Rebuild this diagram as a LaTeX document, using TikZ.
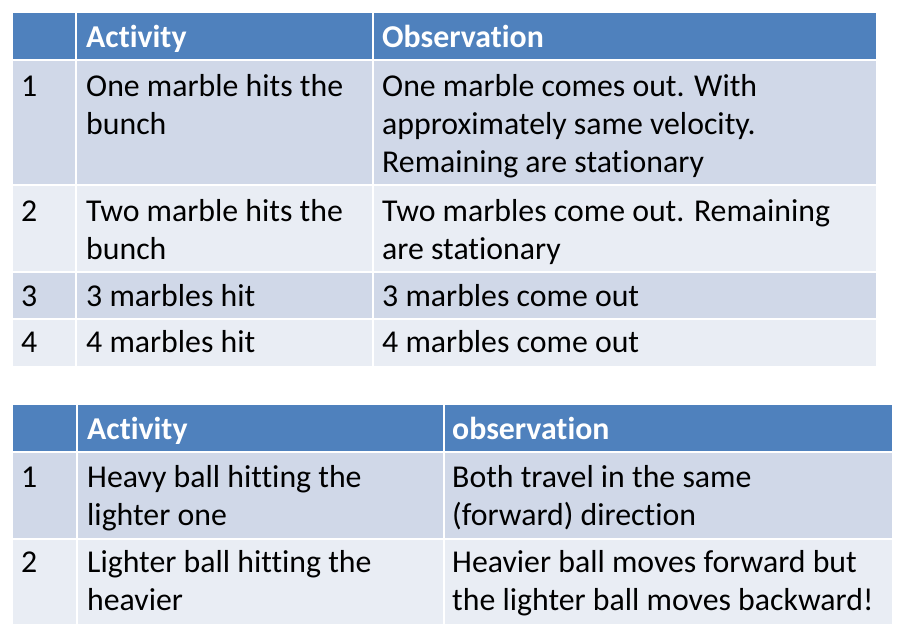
\documentclass[tikz,border=0pt]{standalone}
\usepackage{fontspec}
\setmainfont[Ligatures={NoCommon}]{Carlito}
\definecolor{hdr}{HTML}{4F81BD}
\definecolor{oddrow}{HTML}{D0D8E8}
\definecolor{evenrow}{HTML}{E9EDF4}
\tikzset{
  cell/.style={anchor=north west, inner sep=0pt, align=left, font=\fontsize{31.8}{38}\selectfont},
  head/.style={cell, text=white, font=\fontsize{31.8}{38}\selectfont\bfseries},
}
% baseline b -> north = b - 26.6 (strut height .7*38)
\begin{document}
\begin{tikzpicture}[x=1pt,y=-1pt]
\useasboundingbox (0,0) rectangle (904,637);
% ---------- table 1 ----------
\fill[hdr]     (13,13)  rectangle (876,58.5);
\fill[oddrow]  (13,61)  rectangle (876,184);
\fill[evenrow] (13,186) rectangle (876,271);
\fill[oddrow]  (13,273) rectangle (876,318);
\fill[evenrow] (13,320) rectangle (876,366);
\draw[white, line width=2pt] (76,13) -- (76,366) (373,13) -- (373,366);
% ---------- table 2 ----------
\fill[hdr]     (13,405) rectangle (892,450.5);
\fill[oddrow]  (13,453) rectangle (892,538);
\fill[evenrow] (13,540) rectangle (892,624);
\draw[white, line width=2pt] (77,405) -- (77,624) (444,405) -- (444,624);
% ---------- text table 1 ----------
\node[head] (h1a) at (86,20.4) {\strut Activity};
\node[head] (h1b) at (382,20.4) {\strut Observation};
\node[cell] (n1) at (21,69.4) {\strut 1};
\node[cell] (a1) at (86,69.4) {\strut One marble hits the\\bunch};
\node[cell] (o1) at (382,69.4) {\strut One marble comes out. With\\approximately same velocity.\\Remaining are stationary};
\node[cell] (n2) at (21,194.4) {\strut 2};
\node[cell] (a2) at (86,194.4) {\strut Two marble hits the\\bunch};
\node[cell] (o2) at (382,194.4) {\strut Two marbles come out. Remaining\\are stationary};
\node[cell] (n3) at (21,279.4) {\strut 3};
\node[cell] (a3) at (86,279.4) {\strut 3 marbles hit};
\node[cell] (o3) at (382,279.4) {\strut 3 marbles come out};
\node[cell] (n4) at (21,325.4) {\strut 4};
\node[cell] (a4) at (86,325.4) {\strut 4 marbles hit};
\node[cell] (o4) at (382,325.4) {\strut 4 marbles come out};
% ---------- text table 2 ----------
\node[head] (h2a) at (87,412.4) {\strut Activity};
\node[head] (h2b) at (452,412.4) {\strut observation};
\node[cell] (m1) at (21,460.4) {\strut 1};
\node[cell] (b1) at (87,460.4) {\strut Heavy ball hitting the\\lighter one};
\node[cell] (p1) at (452,460.4) {\strut Both travel in the same\\(forward) direction};
\node[cell] (m2) at (21,545.4) {\strut 2};
\node[cell] (b2) at (87,545.4) {\strut Lighter ball hitting the\\heavier};
\node[cell] (p2) at (452,545.4) {\strut Heavier ball moves forward but\\the lighter ball moves backward!};
\end{tikzpicture}
\end{document}
